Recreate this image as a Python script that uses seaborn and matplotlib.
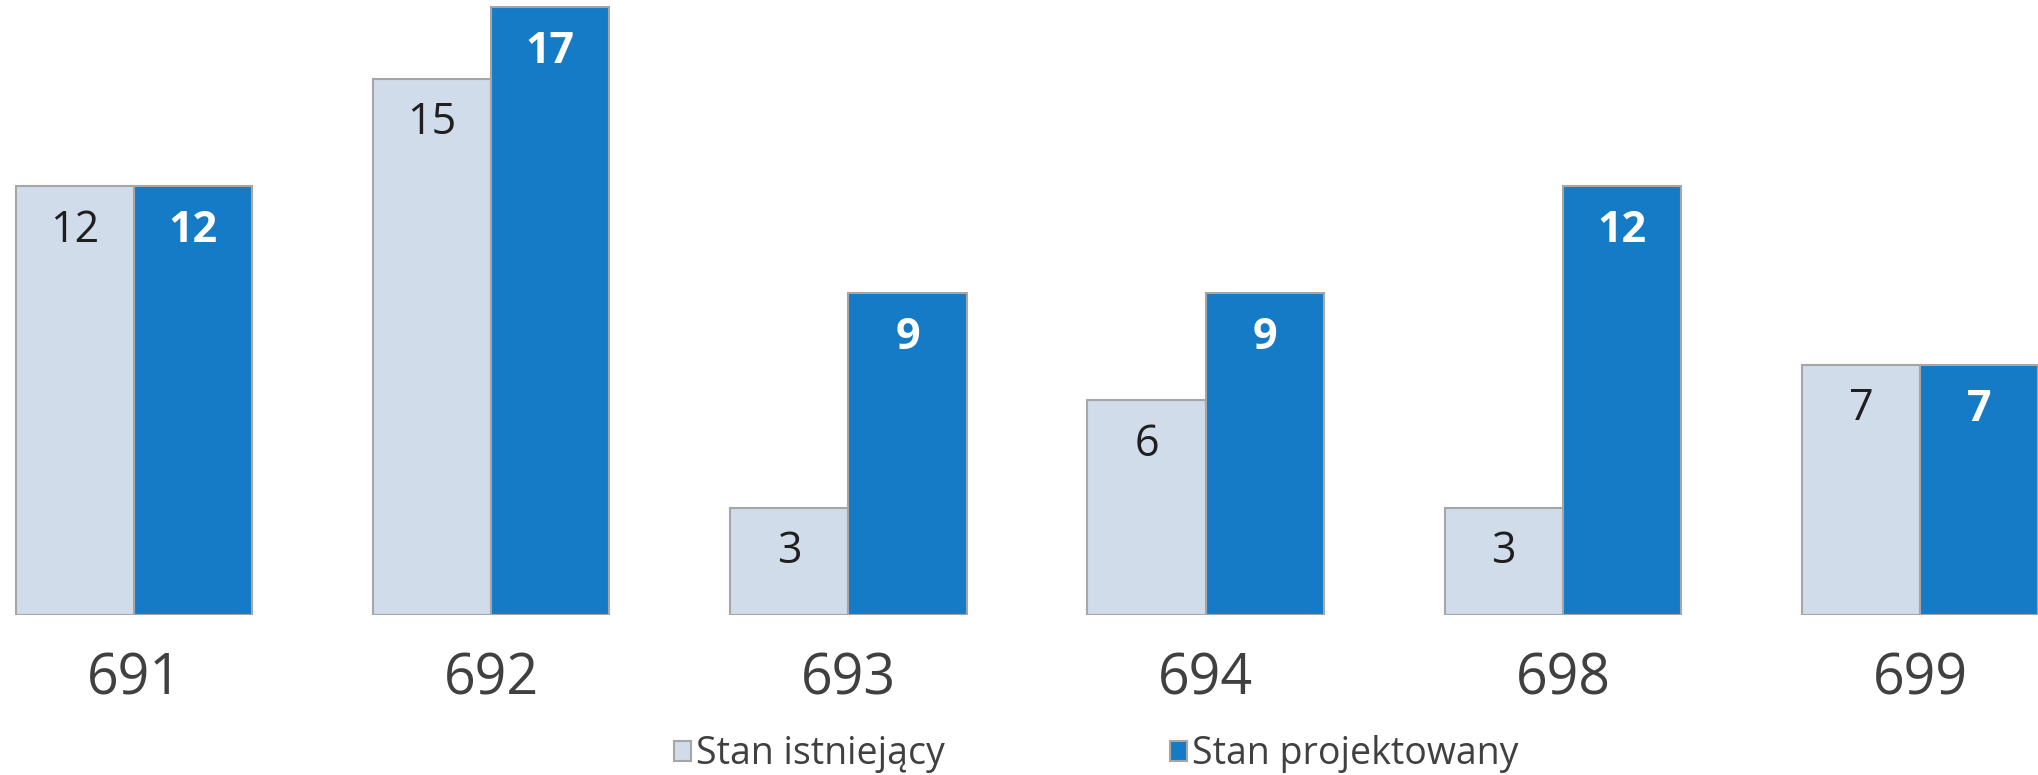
import matplotlib
matplotlib.use('Agg')
import matplotlib.pyplot as plt
import seaborn as sns
import pandas as pd

categories = ['691', '692', '693', '694', '698', '699']
existing = [12, 15, 3, 6, 3, 7]
projected = [12, 17, 9, 9, 12, 7]
series_names = ['Stan istniejący', 'Stan projektowany']
colors = ['#D0DCEA', '#167BC6']

sns.set_style('white')
plt.rcParams['font.family'] = ['Open Sans', 'DejaVu Sans']

df = pd.DataFrame({
    'cat': categories * 2,
    'val': existing + projected,
    'series': [series_names[0]] * len(categories) + [series_names[1]] * len(categories),
})

fig = plt.figure(figsize=(20.38, 7.75), dpi=100)
ax = fig.add_axes([0, 160 / 775, 1, 615 / 775])
sns.barplot(data=df, x='cat', y='val', hue='series', order=categories,
            hue_order=series_names, palette=colors, saturation=1, width=0.662,
            edgecolor='#A6A6A6', linewidth=1.5, ax=ax, legend=True)
ax.set_xlim(-0.375, 5.33)
ax.set_ylim(0, 17.2)

label_colors = ['#1F1F1F', 'white']
label_weights = ['normal', 'bold']
for container, lc, lw in zip(ax.containers, label_colors, label_weights):
    for patch in container:
        ax.annotate(f'{int(round(patch.get_height()))}',
                    (patch.get_x() + patch.get_width() / 2, patch.get_height()),
                    xytext=(0, -32), textcoords='offset points',
                    ha='center', va='center', fontsize=31, color=lc, fontweight=lw)

ax.set_xlabel('')
ax.set_ylabel('')
ax.set_yticks([])
ax.tick_params(axis='x', length=0, labelsize=40, pad=26, labelcolor='#404040')
for s in ax.spines.values():
    s.set_visible(False)

handles, labels = ax.get_legend_handles_labels()
ax.get_legend().remove()
fig.legend(handles, labels, loc='center', bbox_to_anchor=(0.538, 0.027), ncol=2,
           frameon=False, fontsize=27, handlelength=0.44, handleheight=0.44,
           handletextpad=0.15, columnspacing=6.0, labelcolor='#404040')

fig.savefig('out.png', dpi=100)
